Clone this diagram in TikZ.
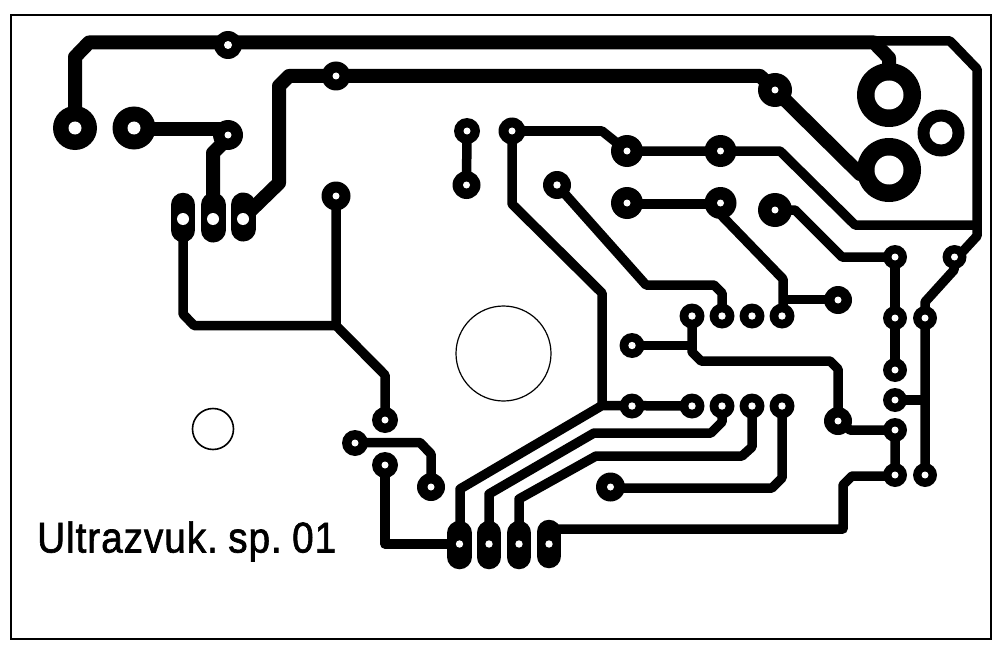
\documentclass[tikz,border=0pt]{standalone}
\usepackage{fontspec}
\usepackage{graphicx}
\setmainfont{Liberation Sans}
\newfontfamily\labelfont[FakeBold=1.6,LetterSpace=2.4,WordSpace=0.55]{Liberation Sans}
\tikzset{
  wide/.style={line width=14pt,line join=round,black},
  mid/.style={line width=9.5pt,line join=round,black},
  outline/.style={line width=1.6pt,black},
}
% pad: x, y, outer radius, hole radius
\newcommand{\pad}[4]{\fill[black] (#1,#2) circle[radius=#3]; \fill[white] (#1,#2) circle[radius=#4];}
% oval pad: x, top cap centre, bottom cap centre, hole y, width, hole radius
\newcommand{\ovalpad}[6]{\draw[line width=#5pt,line cap=round,black] (#1,#2) -- (#1,#3); \fill[white] (#1,#4) circle[radius=#6];}
\begin{document}
\begin{tikzpicture}[x=1pt,y=-1pt]
\useasboundingbox (0,0) rectangle (1003,650);
\fill[white] (0,0) rectangle (1003,650);
\draw[outline] (11,15) rectangle (991,639);
% mounting holes
\draw[line width=1.2pt] (503.5,353.5) circle[radius=47.5];
\draw[outline] (213,429) circle[radius=20.5];
% wide traces
\draw[wide] (75,128) -- (75,57) -- (89,42.5) -- (874,42.5) -- (889,58) -- (889,95);
\draw[wide] (243,218) -- (279,183) -- (279,86) -- (289,76) -- (760,76) -- (775,90) -- (860,174) -- (889,174);
\draw[wide] (134,129) -- (228,129);
\draw[wide] (228,138) -- (213,153) -- (213,218);
% medium traces
\draw[mid] (870,41) -- (950,41) -- (977,69) -- (977,236) -- (954,261) -- (954,270) -- (925,302) -- (925,475);
\draw[mid] (977,225) -- (855,225) -- (780,151) -- (627,151);
\draw[mid] (895,400) -- (925,400);
\draw[mid] (895,257) -- (895,370);
\draw[mid] (183,218) -- (183,314) -- (194,325.5) -- (336,325.5);
\draw[mid] (336,196) -- (336,325.5) -- (385,375) -- (385,420);
\draw[mid] (355,442.5) -- (420,442.5) -- (431,454) -- (431,487);
\draw[mid] (385,465) -- (385,544) -- (460,544);
\draw[mid] (467,131) -- (466.5,185);
\draw[mid] (512,131) -- (602,131) -- (627,151);
\draw[mid] (512,131) -- (512,204) -- (602,293) -- (602,405.5);
\draw[mid] (692,406) -- (602,405.5) -- (460,489) -- (460,544);
\draw[mid] (722,406) -- (722,422) -- (711,433) -- (594,433) -- (489,494) -- (489,544);
\draw[mid] (752,406) -- (752,447) -- (742,456) -- (596,456) -- (519,499) -- (519,544);
\draw[mid] (782,406) -- (782,478) -- (772,488) -- (610,488);
\draw[mid] (549,529) -- (843,529) -- (843,485) -- (852,476) -- (895,476);
\draw[mid] (838,421) -- (850,430) -- (895,430) -- (895,476);
\draw[mid] (692,316) -- (692,352) -- (701,361) -- (830,361) -- (838,369) -- (838,421);
\draw[mid] (632,345.5) -- (692,345.5);
\draw[mid] (627,204) -- (720,204);
\draw[mid] (720,204) -- (722,216) -- (783,279) -- (783,316);
\draw[mid] (783,299.5) -- (838,299.5);
\draw[mid] (557,185) -- (646,285) -- (714,285) -- (722,293) -- (722,316);
\draw[mid] (775,210) -- (795,210) -- (842,257) -- (895,257);
% oval pads
\ovalpad{183}{205}{230}{219}{24.5}{6}
\ovalpad{213}{205}{230}{219}{25}{6}
\ovalpad{243}{205}{229}{219}{25}{6}
\ovalpad{459.5}{533}{557}{544}{24.5}{3.7}
\ovalpad{489}{533}{557}{544}{24.5}{3.7}
\ovalpad{519}{533}{557}{544}{24.5}{3.7}
\ovalpad{549}{532}{556}{544}{24.5}{3.7}
% large pads
\pad{75}{128}{22}{6.5}
\pad{134}{128}{21.5}{6.5}
\pad{889}{95}{32}{14.5}
\pad{889}{170}{32}{14.5}
\pad{941}{133}{23.5}{11.5}
% small pads
\pad{228}{45}{14}{4}
\pad{336}{76}{14.5}{3.5}
\pad{228}{135}{15}{3.5}
\pad{336}{196}{14.5}{3.5}
\pad{467}{131}{13}{3.5}
\pad{466.5}{185}{14}{3.5}
\pad{512}{131}{13.5}{3.5}
\pad{557}{185}{14}{3.7}
\pad{627}{151}{16}{3.5}
\pad{720.5}{151}{16}{3.5}
\pad{627}{203}{16}{3.5}
\pad{720.5}{203}{16}{3.5}
\pad{775}{90}{17}{3.5}
\pad{775}{210}{17}{3.5}
\pad{895}{257}{12}{3.5}
\pad{954.5}{257}{12}{3.5}
\pad{838}{300}{14}{3.5}
\pad{692}{316}{12.5}{3.7}
\pad{722}{316}{12.5}{3.7}
\pad{752}{316}{12.5}{3.7}
\pad{782}{316}{12.5}{3.7}
\pad{895}{318}{12}{3.5}
\pad{925}{318}{12}{3.5}
\pad{632}{345.5}{12.5}{3.7}
\pad{632}{406}{12.5}{3.7}
\pad{692}{406}{12.5}{3.7}
\pad{722}{406}{12.5}{3.7}
\pad{752}{406}{12.5}{3.7}
\pad{782}{406}{12.5}{3.7}
\pad{895}{370}{12}{3.5}
\pad{895}{400}{12}{3.5}
\pad{838}{421}{14}{3.5}
\pad{895}{430}{12}{3.5}
\pad{895}{475}{12}{3.5}
\pad{925}{475}{12}{3.5}
\pad{610.5}{487}{14.5}{3.5}
\pad{385}{420}{13}{3.5}
\pad{355}{443}{13}{3.5}
\pad{385}{465}{13}{3.5}
\pad{431}{487}{14}{3.5}
% label
\node[anchor=base west,inner sep=0pt] (label) at (37,552.5) {\resizebox{299pt}{\height}{\labelfont\fontsize{43pt}{43pt}\selectfont Ultrazvuk. sp. 01}};
\end{tikzpicture}
\end{document}
